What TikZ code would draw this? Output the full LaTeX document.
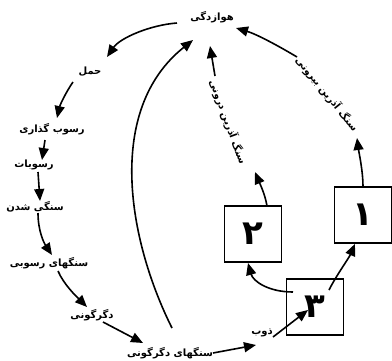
\documentclass[tikz,border=0pt]{standalone}
\usepackage{fontspec}
\newfontfamily\arabicfont[Script=Arabic]{DejaVu Sans}
\TeXXeTstate=1
\usetikzlibrary{arrows.meta}
\begin{document}
\begin{tikzpicture}[x=1pt,y=-1pt,
  lbl/.style={font=\arabicfont\bfseries\fontsize{10}{11}\selectfont, inner sep=0pt},
  conn/.style={line width=1.6pt, -{Triangle[length=12pt,width=10pt]}},
  numbox/.style={draw, line width=1.7pt, minimum width=57pt, minimum height=56pt, inner sep=0pt,
    font=\arabicfont\bfseries\fontsize{34}{34}\selectfont}]
\useasboundingbox (0,0) rectangle (392,360);
% text nodes
\node[lbl] (weather) at (212,17) {\beginR هوازدگی\endR};
\node[lbl] (haml) at (90,72) {\beginR حمل\endR};
\node[lbl] (rg) at (52,129) {\beginR رسوب گذاری\endR};
\node[lbl] (rosobat) at (34,165) {\beginR رسوبات\endR};
\node[lbl] (ss) at (35,207) {\beginR سنگی شدن\endR};
\node[lbl] (sr) at (49,263) {\beginR سنگهای رسوبی\endR};
\node[lbl] (dg) at (92,315) {\beginR دگرگونی\endR};
\node[lbl] (sd) at (170,353) {\beginR سنگهای دگرگونی\endR};
\node[lbl] (zob) at (262,333) {\beginR ذوب\endR};
\node[lbl, rotate=-70] (intr) at (228,122) {\beginR سنگ آذرین درونی\endR};
\node[lbl, rotate=-51] (extr) at (327,94) {\beginR سنگ آذرین بیرونی\endR};
% boxes
\node[numbox] (box1) at (363,215) {۱};
\node[numbox] (box2) at (253,234) {۲};
\node[numbox] (box3) at (315,307) {۳};
% connectors
\draw[conn] ([shift={(-35,6)}]weather.center) .. controls +(-27,2) and +(13,-19) .. ([shift={(17,-15)}]haml.center);
\draw[conn] ([shift={(-17,10)}]haml.center) .. controls +(-7,10) and +(3,-13) .. ([shift={(5,-11)}]rg.center);
\draw[conn] ([shift={(-7,11)}]rg.center) -- ([shift={(8,-5)}]rosobat.center);
\draw[conn] ([shift={(4,7)}]rosobat.center) -- ([shift={(5,-6)}]ss.center);
\draw[conn] ([shift={(3,6)}]ss.center) .. controls +(0,18) and +(-8,-12) .. ([shift={(3,-8)}]sr.center);
\draw[conn] ([shift={(9,8)}]sr.center) .. controls +(6,14) and +(-10,-10) .. ([shift={(-5,-8)}]dg.center);
\draw[conn] ([shift={(11,7)}]dg.center) -- ([shift={(-27,-10)}]sd.center);
\draw[conn] ([shift={(43,0)}]sd.center) -- ([shift={(-6,12)}]zob.center);
\draw[conn] ([shift={(11,4)}]zob.center) -- ([shift={(-7,3)}]box3.center);
\draw[conn] ([shift={(14,-17)}]box3.center) .. controls +(7,-14) and +(-6,14) .. ([shift={(-8,0)}]box1.south);
\draw[conn] ([shift={(-22,-15)}]box3.center) .. controls +(-25,0) and +(5,18) .. ([shift={(-5,29)}]box2.center);
\draw[conn] ([shift={(14,-28)}]box2.center) .. controls +(-2,-12) and +(5,12) .. ([shift={(2,-62)}]box2.center);
\draw[conn] ([shift={(-13,-46)}]intr.center) -- ([shift={(-2,29)}]weather.center);
\draw[conn] (box1.north) .. controls +(0,-15) and +(2,15) .. ([shift={(-6,-77)}]box1.center);
\draw[conn] ([shift={(-30,-37)}]extr.center) .. controls +(-20,-12) and +(20,6) .. ([shift={(24,11)}]weather.center);
\draw[conn] ([shift={(2,-25)}]sd.center) .. controls +(-44,-88) and +(-88,70) .. ([shift={(-19,23)}]weather.center);
\end{tikzpicture}
\end{document}
